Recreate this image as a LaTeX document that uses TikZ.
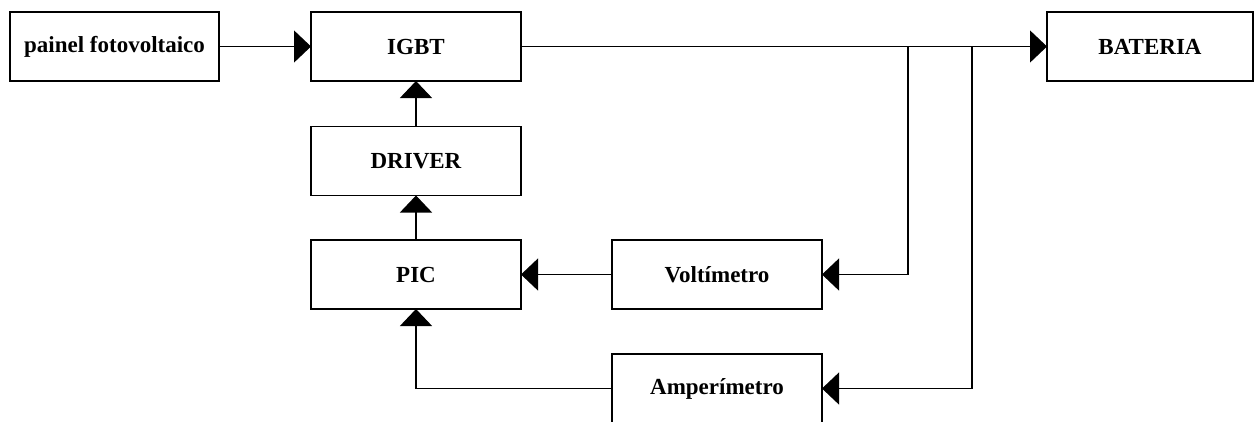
\documentclass[tikz,border=0pt]{standalone}
\usepackage{fontspec}
\setmainfont{Liberation Serif}
\usetikzlibrary{arrows.meta}
\begin{document}
\begin{tikzpicture}[x=1pt,y=-1pt,
  block/.style={draw, line width=1.2pt, minimum height=69pt, minimum width=210pt,
    inner sep=0pt, outer sep=0pt, font=\fontsize{23}{27}\selectfont\bfseries},
  link/.style={line width=1.2pt, -{Triangle[length=17pt,width=32pt]}}]
  \clip (0,0) rectangle (1257,421);
  \fill[white] (0,0) rectangle (1257,421);

  % blocks
  \node[block, minimum width=209pt] (pv)   at (114.5,46.5) {painel fotovoltaico};
  \node[block] (igbt) at (416,46.5)  {IGBT};
  \node[block] (drv)  at (416,161)   {DRIVER};
  \node[block] (pic)  at (416,274.5) {PIC};
  \node[block] (volt) at (717,274.5) {Voltímetro};
  \node[block] (amp)  at (717,388.5) {Amperímetro};
  \node[block, minimum width=206pt] (bat)  at (1150,46.5) {BATERIA};

  % taps on the output bus
  \coordinate (tapV) at (908,46.5);
  \coordinate (tapA) at (972,46.5);

  % connections
  \draw[link] (pv) -- (igbt);
  \draw[link] (igbt) -- (bat);
  \draw[link] (drv) -- (igbt);
  \draw[link] (pic) -- (drv);
  \draw[link] (volt) -- (pic);
  \draw[link] (amp.west) -| (pic.south);
  \draw[link] (tapV) |- (volt.east);
  \draw[link] (tapA) |- (amp.east);
\end{tikzpicture}
\end{document}
